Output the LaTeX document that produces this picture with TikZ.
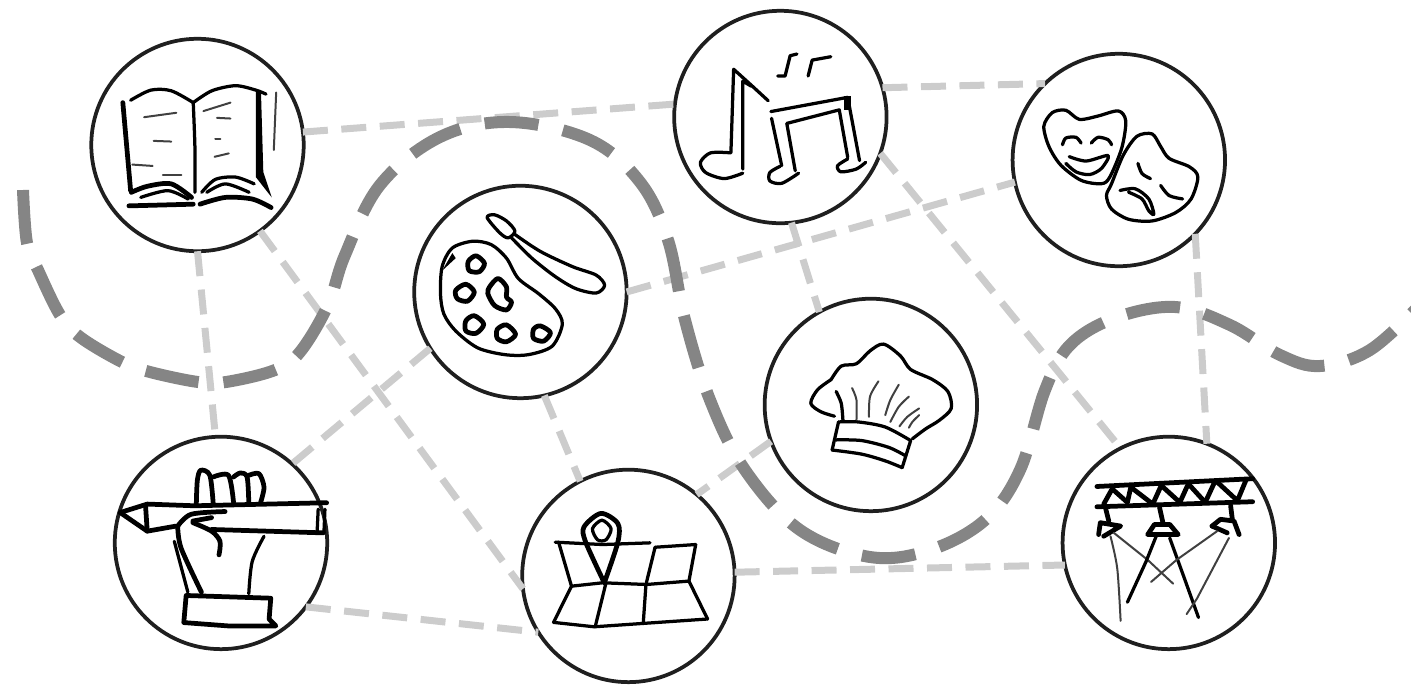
\documentclass[tikz,border=0pt]{standalone}
\usepackage{tikz}
\usetikzlibrary{positioning}

\begin{document}
\begin{tikzpicture}[
      x=0.02cm,y=-0.02cm,
      spot/.style={draw=black!88,circle,line width=0.075cm,minimum size=4.25cm,inner sep=0pt,outer sep=0pt},
      link/.style={draw=black!20,line width=0.14cm,dash pattern=on 0.5cm off 0.27cm},
      route/.style={draw=black!48,line width=0.24cm,dash pattern=on 1.08cm off 0.5cm},
      ink/.style={draw=black,line width=0.065cm,line cap=round,line join=round},
      thinink/.style={draw=black!75,line width=0.04cm,line cap=round,line join=round},
      heavyink/.style={draw=black,line width=0.095cm,line cap=round,line join=round},
      icon/.style={scale=0.3385}
    ]
    \useasboundingbox (0,0) rectangle (1411,687);
    \node[spot] (book) at (197.5,145) {};
    \node[spot,right=7.41cm of book,yshift=0.56cm] (music) {};
    \node[spot,right=2.52cm of music,yshift=-0.86cm] (masks) {};
    \node[spot,right=2.21cm of book,yshift=-2.94cm] (palette) {};
    \node[spot,right=2.76cm of palette,yshift=-2.26cm] (chef) {};
    \node[spot,below=3.71cm of book,xshift=0.47cm] (pen) {};
    \node[spot,right=3.9cm of pen,yshift=-0.66cm] (map) {};
    \node[spot,right=6.56cm of map,yshift=0.66cm] (lights) {};

    \draw[link] (book.7) -- (music.173.6);
    \draw[link] (book.-90) -- (pen.93);
    \draw[link] (book.-54) -- (map.187.5);
    \draw[link] (palette.212.8) -- (pen.48.4);
    \draw[link] (palette.-0.5) -- (masks.192);
    \draw[link] (palette.-77) -- (map.117);
    \draw[link] (music.-84) -- (chef.119.5);
    \draw[link] (music.16.5) -- (masks.134);
    \draw[link] (music.-20.6) -- (lights.117.7);
    \draw[link] (masks.-44) -- (lights.69.7);
    \draw[link] (chef.200) -- (map.50);
    \draw[link] (map.2) -- (lights.192);
    \draw[link] (pen.-37.7) -- (map.212);

    \draw[route] plot[smooth,tension=0.6] coordinates {(23,190) (27,243) (38,270) (60,315) (80,337) (122,362) (150,372) (198,382) (226,382) (275,370) (300,352) (328,305) (345,255) (380,185) (440,137) (510,122) (590,140) (640,182) (668,240) (685,320) (710,400) (745,470) (800,530) (870,557) (930,550) (985,520) (1020,470) (1045,390) (1070,345) (1115,318) (1175,307) (1230,325) (1280,355) (1320,366) (1370,350) (1420,305)};

    \begin{scope}[shift={(90,40)},icon]
      \draw[heavyink] (97,185) -- (120,445);
      \draw[ink] plot[smooth] coordinates {(120,178) (180,148) (240,150) (305,185)};
      \draw[ink] plot[smooth] coordinates {(305,185) (310,320) (310,450)};
      \draw[ink] plot[smooth] coordinates {(305,185) (360,150) (430,135) (490,148) (520,160)};
      \fill (490,150) -- (505,150) -- (512,390) -- (537,465) -- (525,450) -- (490,405) -- cycle;
      \draw[thinink] (550,155) -- (543,325);
      \draw[heavyink] plot[smooth] coordinates {(122,450) (170,432) (240,425) (300,465)};
      \draw[ink] plot[smooth] coordinates {(150,465) (230,445) (290,470)};
      \draw[heavyink] (115,490) -- (305,485);
      \draw[ink] plot[smooth] coordinates {(330,450) (370,412) (430,405) (485,425)};
      \draw[ink] plot[smooth] coordinates {(345,450) (400,425) (470,450)};
      \draw[heavyink] plot[smooth] coordinates {(325,485) (400,465) (480,470) (535,495)};
      \draw[thinink] (160,228) -- (255,215);
      \draw[thinink] (188,298) -- (240,300);
      \draw[thinink] (125,368) -- (185,372);
      \draw[thinink] (215,398) -- (270,398);
      \draw[thinink] (335,210) -- (415,185);
      \draw[thinink] (375,230) -- (415,232);
      \draw[thinink] (370,293) -- (385,293);
      \draw[thinink] (368,345) -- (410,335);
    \end{scope}

    \begin{scope}[shift={(670,10)},icon]
      \draw[ink] (180,420) -- (188,175) -- (240,222) -- (290,268);
      \draw[ink] (215,470) -- (215,210) -- (240,225);
      \draw[ink] plot[smooth] coordinates {(180,422) (120,422) (90,450) (105,480) (160,498) (215,482)};
      \draw[ink] (298,300) -- (525,258) -- (560,445);
      \draw[ink] (300,320) -- (330,460);
      \draw[ink] (370,475) -- (345,335) -- (500,295) -- (525,435);
      \fill (515,255) rectangle (535,295);
      \draw[ink] plot[smooth] coordinates {(525,440) (495,460) (505,478) (550,470) (578,450)};
      \draw[ink] plot[smooth] coordinates {(325,462) (295,480) (295,505) (330,512) (380,482)};
      \draw[ink] (375,130) -- (355,135) -- (340,195) -- (318,195);
      \draw[ink] (475,138) -- (420,148) -- (408,195);
    \end{scope}

    \begin{scope}[shift={(1010,50)},icon]
      \draw[ink] plot[smooth cycle] coordinates {(100,225) (125,185) (165,178) (205,205) (260,195) (320,180) (342,210) (330,290) (295,375) (270,395) (210,385) (150,340) (115,285)};
      \draw[ink] plot[smooth] coordinates {(155,280) (165,260) (195,258) (210,275)};
      \draw[ink] plot[smooth] coordinates {(240,275) (260,258) (290,265) (300,280)};
      \draw[ink] plot[smooth] coordinates {(175,315) (225,328) (290,312) (270,350) (235,368) (195,360) (165,335)};
      \draw[ink] plot[smooth cycle] coordinates {(300,395) (335,310) (375,255) (420,248) (445,285) (470,320) (530,345) (555,375) (535,440) (490,480) (420,505) (350,500) (300,470) (285,430)};
      \draw[ink] plot[smooth] coordinates {(378,335) (390,365) (415,380)};
      \draw[ink] plot[smooth] coordinates {(445,400) (470,430) (510,440)};
      \draw[ink] plot[smooth] coordinates {(325,415) (370,410) (410,440) (425,485) (410,475) (390,440) (350,420)};
    \end{scope}

    \begin{scope}[shift={(410,182)},icon]
      \draw[ink] plot[smooth cycle] coordinates {(95,250) (125,195) (185,175) (240,185) (285,225) (320,285) (380,330) (430,375) (450,420) (420,485) (350,510) (280,510) (200,490) (135,440) (100,390) (90,330)};
      \fill (95,262) -- (125,210) -- (135,225) -- cycle;
      \draw[heavyink] plot[smooth cycle] coordinates {(195,218) (220,240) (205,265) (175,262) (172,235)};
      \draw[heavyink] plot[smooth cycle] coordinates {(165,302) (190,325) (170,352) (140,345) (135,320)};
      \draw[heavyink] plot[smooth cycle] coordinates {(190,395) (218,420) (195,447) (165,440) (165,410)};
      \draw[heavyink] plot[smooth cycle] coordinates {(285,422) (312,450) (285,472) (258,462) (258,435)};
      \draw[heavyink] plot[smooth cycle] coordinates {(385,425) (415,445) (395,470) (365,462) (365,435)};
      \draw[heavyink] plot[smooth cycle] coordinates {(235,310) (260,285) (285,310) (285,340) (300,355) (285,378) (250,365) (230,330)};
      \draw[ink] plot[smooth cycle] coordinates {(228,105) (250,97) (285,115) (310,145) (290,165) (265,150)};
      \draw[ink] plot[smooth] coordinates {(310,155) (385,205) (480,250) (550,275) (575,305) (550,328) (490,315) (430,280) (360,225) (300,165)};
    \end{scope}

    \begin{scope}[shift={(760,295)},icon]
      \draw[ink] plot[smooth] coordinates {(210,250) (240,210) (285,203) (325,165) (365,145) (415,180) (445,220) (510,250) (555,285) (565,335) (530,370) (490,395) (450,425)};
      \draw[ink] plot[smooth] coordinates {(210,250) (170,280) (150,320) (180,345) (220,358)};
      \draw[ink] plot[smooth] coordinates {(225,285) (240,320) (245,370)};
      \draw[ink] plot[smooth] coordinates {(232,375) (290,375) (370,390) (445,430)};
      \draw[ink] plot[smooth] coordinates {(225,428) (300,430) (380,450) (430,475)};
      \draw[ink] plot[smooth] coordinates {(213,458) (300,470) (370,490) (420,510)};
      \draw[ink] (232,375) -- (213,458);
      \draw[ink] (445,430) -- (420,510);
      \draw[thinink] plot[smooth] coordinates {(272,275) (285,310) (285,368)};
      \draw[thinink] plot[smooth] coordinates {(350,255) (325,300) (322,360)};
      \draw[thinink] plot[smooth] coordinates {(410,265) (385,310) (370,355)};
      \draw[thinink] plot[smooth] coordinates {(440,300) (410,330) (385,375)};
      \draw[thinink] plot[smooth] coordinates {(470,335) (435,360) (412,388)};
      \draw[thinink] plot[smooth] coordinates {(470,355) (450,375) (440,392)};
    \end{scope}

    \begin{scope}[shift={(110,433)},icon]
      \draw[heavyink] (30,235) -- (110,210) -- (250,215) -- (640,206);
      \draw[heavyink] (30,235) -- (110,290) -- (195,275);
      \draw[heavyink] (300,285) -- (630,295);
      \draw[heavyink] (105,215) -- (110,290);
      \draw[ink] (615,225) -- (612,290);
      \draw[ink] (635,225) -- (632,295);
      \draw[heavyink] plot[smooth] coordinates {(255,210) (258,140) (268,110) (295,125) (305,210)};
      \draw[heavyink] plot[smooth] coordinates {(305,130) (350,125) (365,205)};
      \draw[heavyink] plot[smooth] coordinates {(365,130) (385,118) (405,130) (410,205)};
      \draw[heavyink] plot[smooth] coordinates {(410,125) (440,120) (455,160) (445,205)};
      \draw[heavyink] plot[smooth] coordinates {(200,275) (240,240) (340,232)};
      \draw[heavyink] (245,260) -- (300,250);
      \draw[heavyink] plot[smooth] coordinates {(245,265) (300,290) (325,320) (322,360)};
      \draw[heavyink] plot[smooth] coordinates {(200,275) (210,340) (270,470)};
      \draw[ink] (190,320) -- (230,470);
      \draw[ink] plot[smooth] coordinates {(455,305) (420,380) (410,475)};
      \draw[heavyink] (225,480) -- (475,488) -- (470,550) -- (490,570) -- (350,570) -- (218,560) -- cycle;
    \end{scope}

    \begin{scope}[shift={(518,466)},icon]
      \draw[ink] (110,225) -- (250,232) -- (390,227);
      \draw[ink] (405,240) -- (525,232);
      \draw[ink] (120,225) -- (158,355) -- (105,462);
      \draw[ink] (158,355) -- (250,345) -- (380,350) -- (505,340);
      \draw[ink] (105,462) -- (225,475) -- (370,465) -- (560,452);
      \draw[ink] (525,232) -- (505,340) -- (560,452);
      \draw[ink] (405,240) -- (378,350) -- (370,465);
      \draw[ink] (260,345) -- (228,475);
      \draw[heavyink] plot[smooth] coordinates {(255,345) (200,225) (195,180) (245,140) (295,170) (295,225) (255,345)};
      \draw[ink] plot[smooth cycle] coordinates {(248,160) (275,185) (260,218) (235,218) (220,185)};
    \end{scope}

    \begin{scope}[shift={(1058,433)},icon]
      \draw[heavyink] (115,158) -- (575,135);
      \draw[heavyink] (115,218) -- (575,203);
      \draw[heavyink] (135,210) -- (160,165) -- (205,205) -- (215,160) -- (280,210) -- (305,155) -- (360,205) -- (385,150) -- (435,205) -- (465,140) -- (530,200) -- (555,140);
      \draw[heavyink] (140,220) -- (150,260);
      \draw[heavyink] (120,300) -- (125,265) -- (185,275) -- (135,305);
      \draw[heavyink] (300,220) -- (310,265);
      \draw[heavyink] (265,300) -- (285,270) -- (330,270) -- (355,300) -- cycle;
      \draw[heavyink] (510,215) -- (515,255);
      \draw[heavyink] (455,275) -- (480,255) -- (520,260) -- (535,300);
      \draw[heavyink] (455,275) -- (500,295);
      \draw[thinink] plot[smooth] coordinates {(155,305) (175,400) (185,555)};
      \draw[thinink] (165,295) -- (265,375) -- (340,445);
      \draw[ink] (290,305) -- (260,380) -- (205,500);
      \draw[ink] (330,310) -- (370,420) -- (415,545);
      \draw[thinink] (470,290) -- (350,375) -- (275,440);
      \draw[thinink] (505,310) -- (410,490) -- (380,535);
    \end{scope}
  \end{tikzpicture}
\end{document}
